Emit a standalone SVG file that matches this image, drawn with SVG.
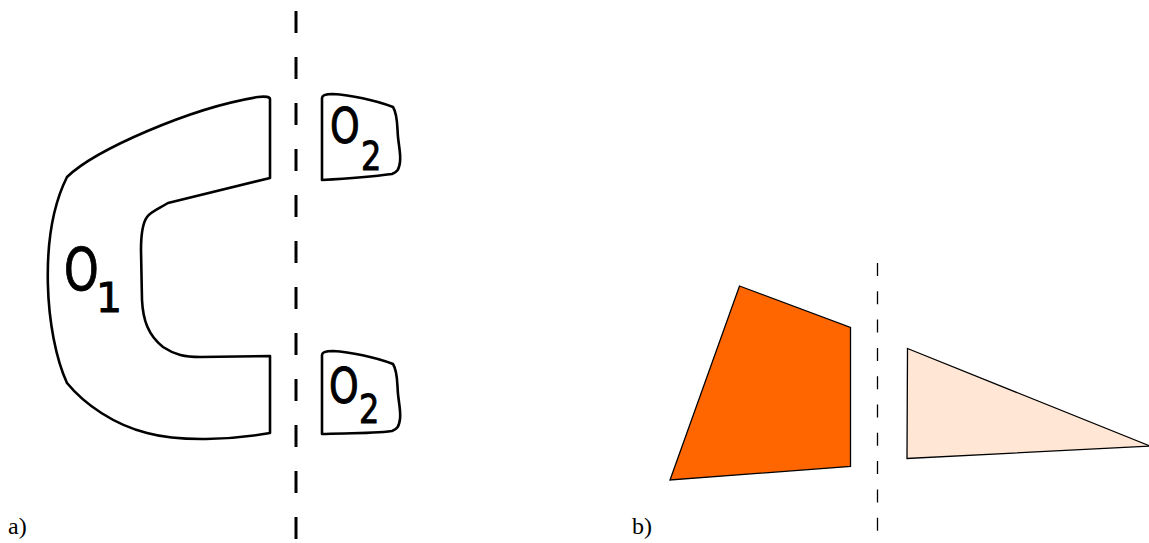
<svg xmlns="http://www.w3.org/2000/svg" width="1149" height="543" viewBox="0 0 1149 543">
<style>
.outline{fill:#fff;stroke:#000;stroke-width:2.6;stroke-linejoin:round}
.lbl{font-family:"DejaVu Sans",sans-serif;fill:#000;stroke:#000;stroke-width:1}
.cap{font-family:"Liberation Serif",serif;font-size:24px;fill:#000}
.dashA{stroke:#000;stroke-width:3;stroke-dasharray:22 24;fill:none}
.dashB{stroke:#000;stroke-width:1.3;stroke-dasharray:13 15.3;fill:none}
.poly{stroke:#000;stroke-width:1.3;stroke-linejoin:miter}
</style>
<rect width="1149" height="543" fill="#fff"/>
<g id="panel-a">
  <g id="O1">
    <path class="outline" d="M 270,99 L 270,178 L 168,203 C 158,209 150,212 147,217 C 142,224 141,235 141,250 L 142,300 C 143,320 148,335 163,347 C 175,355 185,357 200,357 L 270,356 L 270,433 C 230,440 180,442 147,433 C 115,425 85,405 67,383 C 45,335 38,235 67,177 C 95,150 190,108 258,97 C 266,96 270,97 270,99 Z"/>
    <text class="lbl" font-size="58" transform="translate(64,290) scale(0.76,1)">O</text>
    <text class="lbl" font-size="41" x="96" y="312">1</text>
  </g>
  <g id="O2-top">
    <path class="outline" d="M 322,98 C 322,95 328,94 333,94 C 350,95 375,100 393,107 C 398,115 397,127 398,137 C 399,147 401,155 400,162 C 399,170 397,172 392,174 C 370,177 340,179 322,180 Z"/>
    <text class="lbl" font-size="49" transform="translate(330,143) scale(0.77,1)">O</text>
    <text class="lbl" font-size="39" transform="translate(361,170) scale(0.82,1)">2</text>
  </g>
  <g id="O2-bottom">
    <path class="outline" d="M 322,355 C 322,352 328,351 333,351 C 350,352 375,357 393,364 C 398,372 397,384 398,394 C 399,404 401,412 400,419 C 399,427 397,429 392,431 C 370,434 340,433 322,434 Z"/>
    <text class="lbl" font-size="49" transform="translate(329,403) scale(0.77,1)">O</text>
    <text class="lbl" font-size="39" transform="translate(359,423) scale(0.82,1)">2</text>
  </g>
  <line id="axis-a" class="dashA" x1="296" y1="11" x2="296" y2="540"/>
  <text class="cap" x="8" y="534">a)</text>
</g>
<g id="panel-b">
  <polygon id="quad" class="poly" fill="#ff6600" points="739.5,286 850.5,327.5 850.5,466.5 670,480"/>
  <polygon id="tri" class="poly" fill="#ffe6d5" points="907.5,348.5 1150,446 907,458.5"/>
  <line id="axis-b" class="dashB" x1="877.5" y1="263" x2="877.5" y2="534"/>
  <text class="cap" x="632" y="534">b)</text>
</g>
</svg>
